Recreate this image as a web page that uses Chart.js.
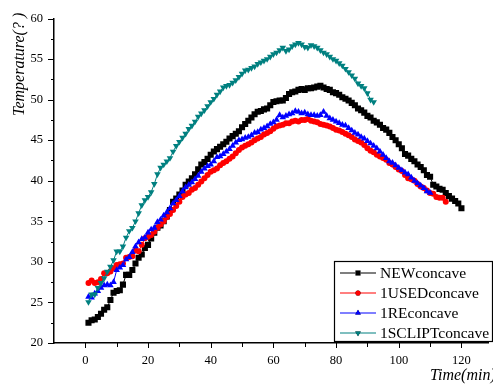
<!DOCTYPE html>
<html lang="en">
<head>
    <meta charset="UTF-8">
    <title>Temperature</title>
    <script src="https://cdn.jsdelivr.net/npm/chart.js"></script>
    <style>
        body { margin: 0; background: #fff; overflow: hidden; }
    </style>
</head>
<body>
    <canvas id="wykres" width="493" height="387"></canvas>

    <script>
        // minutes of measurement (1 sample per minute)
        const minutes = [1,2,3,4,5,6,7,8,9,10,11,12,13,14,15,16,17,18,19,20,
            21,22,23,24,25,26,27,28,29,30,31,32,33,34,35,36,37,38,39,40,
            41,42,43,44,45,46,47,48,49,50,51,52,53,54,55,56,57,58,59,60,
            61,62,63,64,65,66,67,68,69,70,71,72,73,74,75,76,77,78,79,80,
            81,82,83,84,85,86,87,88,89,90,91,92,93,94,95,96,97,98,99,100,
            101,102,103,104,105,106,107,108,109,110,111,112,113,114,115,116,117,118,119,120];

        const newConcave = [22.5,22.8,22.9,23.2,23.6,24.1,24.4,25.3,26.2,26.4,
            26.5,27.2,28.4,28.4,29.0,29.8,30.5,30.9,31.7,32.1,
            32.9,33.6,34.2,34.5,35.0,35.6,36.4,37.4,37.8,38.3,
            38.8,39.5,39.9,40.3,40.8,41.4,42.0,42.3,42.7,43.2,
            43.6,43.9,44.2,44.5,44.8,45.2,45.5,45.8,46.1,46.6,
            47.0,47.4,47.8,48.2,48.5,48.6,48.8,48.9,49.3,49.7,
            49.8,49.9,49.9,50.2,50.7,50.9,51.0,51.2,51.3,51.2,
            51.4,51.4,51.5,51.6,51.7,51.5,51.3,51.2,50.9,50.8,
            50.6,50.3,50.1,49.9,49.6,49.3,48.9,48.7,48.4,48.0,
            47.8,47.4,47.2,46.9,46.5,46.3,45.9,45.4,45.0,44.5,
            44.0,43.3,43.1,42.7,42.4,42.0,41.7,41.3,40.7,40.5,
            39.5,39.3,39.0,38.9,38.5,38.1,37.8,37.5,37.2,36.6];

        const usedConcave = [27.4,27.7,27.4,27.5,27.9,28.6,28.6,28.8,29.2,29.6,
            29.7,29.8,30.5,30.6,30.7,31.4,31.3,32.1,32.9,33.1,
            33.3,33.7,34.2,34.6,35.0,35.5,35.9,36.4,36.9,37.4,
            38.0,38.3,38.5,38.9,39.1,39.5,39.9,40.3,40.7,41.1,
            41.3,41.5,41.9,42.2,42.4,42.7,43.0,43.4,43.8,44.1,
            44.3,44.5,44.7,45.0,45.2,45.4,45.7,45.9,46.1,46.4,
            46.7,46.8,46.9,47.1,47.1,47.3,47.4,47.3,47.5,47.5,
            47.6,47.4,47.3,47.2,47.0,46.9,46.8,46.7,46.5,46.3,
            46.2,46.0,45.8,45.6,45.4,45.1,44.9,44.7,44.4,44.0,
            43.7,43.5,43.2,43.0,42.8,42.6,42.2,42.0,41.7,41.4,
            41.2,40.7,40.3,40.2,40.0,39.6,39.3,39.1,38.8,38.5,
            38.4,38.0,37.9,37.9,37.4];

        const reConcave = [25.7,25.6,26.1,26.4,26.8,27.1,27.2,27.1,27.5,29.0,
            29.3,29.6,30.3,30.6,31.2,31.9,32.4,32.8,33.0,33.6,
            34.0,34.2,34.9,35.2,35.7,36.1,36.6,37.2,37.6,38.1,
            38.7,39.2,39.5,39.8,40.2,40.6,41.1,41.5,41.8,42.0,
            42.4,42.9,43.0,43.3,43.6,43.9,44.3,44.7,45.0,45.1,
            45.3,45.4,45.6,45.9,46.0,46.3,46.5,46.7,47.0,47.2,
            47.5,48.1,47.8,48.0,48.2,48.3,48.6,48.5,48.3,48.4,
            48.2,48.1,48.1,48.0,48.1,48.5,48.0,47.7,47.5,47.3,
            47.1,46.9,46.8,46.5,46.2,45.9,45.7,45.4,45.2,44.9,
            44.6,44.3,44.0,43.6,43.2,42.8,42.4,42.2,41.9,41.6,
            41.3,41.0,40.8,40.4,40.0,39.7,39.4,39.1,38.7,38.5];

        const scliptConcave = [25.05,26.0,26.0,26.8,27.4,28.0,28.8,29.4,30.2,31.3,
            31.3,31.9,33.0,33.8,34.2,35.0,36.0,37.0,37.6,38.0,
            38.6,39.6,40.8,41.6,42.0,42.4,42.8,43.6,44.3,44.8,
            45.3,45.8,46.4,46.8,47.3,47.9,48.3,48.7,49.2,49.7,
            50.1,50.6,51.0,51.5,51.7,51.8,52.1,52.4,52.8,53.2,
            53.6,53.7,53.9,54.1,54.4,54.6,54.8,55.0,55.3,55.6,
            55.8,56.1,56.4,56.0,56.2,56.6,56.8,57.0,56.8,56.5,
            56.4,56.7,56.6,56.4,56.1,55.8,55.6,55.3,55.0,54.8,
            54.5,54.2,53.8,53.4,53.0,52.6,52.0,51.7,51.4,50.8,
            50.0,49.7];

        const seriesNames = ['NEWconcave', '1USEDconcave', '1REconcave', '1SCLIPTconcave'];
        const xTickValues = [0, 20, 40, 60, 80, 100, 120];
        const yTickValues = [20, 25, 30, 35, 40, 45, 50, 55, 60];
        const xTitle = 'Time(min)';
        const yTitle = 'Temperature(? )';

        const punkty = (arr) => arr.map((v, i) => ({ x: minutes[i], y: v }));

        const serif = "'Liberation Serif', 'DejaVu Serif', serif";

        // minor + major tick marks, axis titles, boxed legend with line samples
        const dodatki = {
            id: 'dodatki',
            afterDraw(chart) {
                const ctx = chart.ctx;
                const xs = chart.scales.x, ys = chart.scales.y;
                const a = chart.chartArea;
                ctx.save();
                ctx.strokeStyle = '#000';
                ctx.lineWidth = 1;
                ctx.beginPath();
                for (let i = 0; i < yTickValues.length; i++) {
                    const py = Math.round(ys.getPixelForValue(yTickValues[i])) + 0.5;
                    ctx.moveTo(a.left - 6, py); ctx.lineTo(a.left, py);
                    if (i < yTickValues.length - 1) {
                        const pm = Math.round(ys.getPixelForValue((yTickValues[i] + yTickValues[i + 1]) / 2)) + 0.5;
                        ctx.moveTo(a.left - 3, pm); ctx.lineTo(a.left, pm);
                    }
                }
                for (let i = 0; i < xTickValues.length; i++) {
                    const px = Math.round(xs.getPixelForValue(xTickValues[i])) + 0.5;
                    ctx.moveTo(px, a.bottom); ctx.lineTo(px, a.bottom + 5);
                    const step = i > 0 ? xTickValues[i] - xTickValues[i - 1] : xTickValues[1] - xTickValues[0];
                    [xTickValues[i] - step / 2, xTickValues[i] + step / 2].forEach(m => {
                        if (m > xs.min && m < xs.max) {
                            const pm = Math.round(xs.getPixelForValue(m)) + 0.5;
                            ctx.moveTo(pm, a.bottom); ctx.lineTo(pm, a.bottom + 4);
                        }
                    });
                }
                ctx.stroke();

                // axis titles
                ctx.fillStyle = '#000';
                ctx.font = 'italic 16px ' + serif;
                ctx.textAlign = 'left';
                ctx.textBaseline = 'alphabetic';
                ctx.fillText(xTitle, 430, 380);
                ctx.save();
                ctx.translate(24, 116);
                ctx.rotate(-Math.PI / 2);
                ctx.fillText(yTitle, 0, 0);
                ctx.restore();

                // legend box
                const bx = 334.5, by = 261.5, bw = 158, bh = 80;
                ctx.fillStyle = '#fff';
                ctx.fillRect(bx, by, bw, bh);
                ctx.strokeStyle = '#000';
                ctx.lineWidth = 1.2;
                ctx.strokeRect(bx, by, bw, bh);
                chart.data.datasets.forEach((ds, i) => {
                    const ry = 273 + i * 20;
                    ctx.strokeStyle = ds.borderColor;
                    ctx.lineWidth = 1.2;
                    ctx.beginPath();
                    ctx.moveTo(340, ry); ctx.lineTo(376, ry);
                    ctx.stroke();
                    Chart.helpers.drawPoint(ctx, {
                        pointStyle: ds.pointStyle,
                        radius: ds.pointRadius * 0.85,
                        rotation: ds.pointRotation || 0,
                        borderWidth: 0
                    }, 358, ry);
                    ctx.fillStyle = ds.pointBackgroundColor;
                    ctx.fill();
                    ctx.fillStyle = '#000';
                    ctx.font = '15.5px ' + serif;
                    ctx.textBaseline = 'middle';
                    ctx.fillText(ds.label, 380, ry + 1);
                });
                ctx.restore();
            }
        };

        function seria(label, values, color, style, radius, rotation, order) {
            return {
                label: label,
                data: punkty(values),
                borderColor: color,
                backgroundColor: color,
                pointBackgroundColor: color,
                pointBorderColor: color,
                pointBorderWidth: 0,
                pointStyle: style,
                pointRadius: radius,
                pointRotation: rotation,
                borderWidth: 1,
                showLine: true,
                tension: 0,
                order: order
            };
        }

        const wykres = new Chart(document.getElementById('wykres').getContext('2d'), {
            type: 'scatter',
            data: {
                datasets: [
                    seria(seriesNames[0], newConcave, '#000000', 'rect', 4.3, 0, 3),
                    seria(seriesNames[1], usedConcave, '#ff0000', 'circle', 3.0, 0, 2),
                    seria(seriesNames[2], reConcave, '#0000ff', 'triangle', 3.8, 0, 1),
                    seria(seriesNames[3], scliptConcave, '#008080', 'triangle', 3.8, 180, 0)
                ]
            },
            options: {
                responsive: false,
                animation: false,
                layout: { padding: { top: 16, left: 0, right: 0, bottom: 0 } },
                plugins: {
                    legend: { display: false },
                    tooltip: { enabled: false }
                },
                scales: {
                    x: {
                        type: 'linear',
                        min: -10,
                        max: 128.7,
                        grid: { display: false, drawTicks: false },
                        border: { display: true, color: '#000', width: 1.5 },
                        afterBuildTicks: (s) => { s.ticks = xTickValues.map(v => ({ value: v })); },
                        afterFit: (s) => { s.height = 44; },
                        ticks: {
                            color: '#000',
                            padding: 10,
                            maxRotation: 0,
                            font: { family: serif, size: 12.5 }
                        }
                    },
                    y: {
                        type: 'linear',
                        min: 20,
                        max: 60,
                        grid: { display: false, drawTicks: false },
                        border: { display: true, color: '#000', width: 1.5 },
                        afterBuildTicks: (s) => { s.ticks = yTickValues.map(v => ({ value: v })); },
                        afterFit: (s) => { s.width = 54; },
                        ticks: {
                            color: '#000',
                            padding: 11,
                            font: { family: serif, size: 12.5 }
                        }
                    }
                }
            },
            plugins: [dodatki]
        });
    </script>
</body>
</html>
